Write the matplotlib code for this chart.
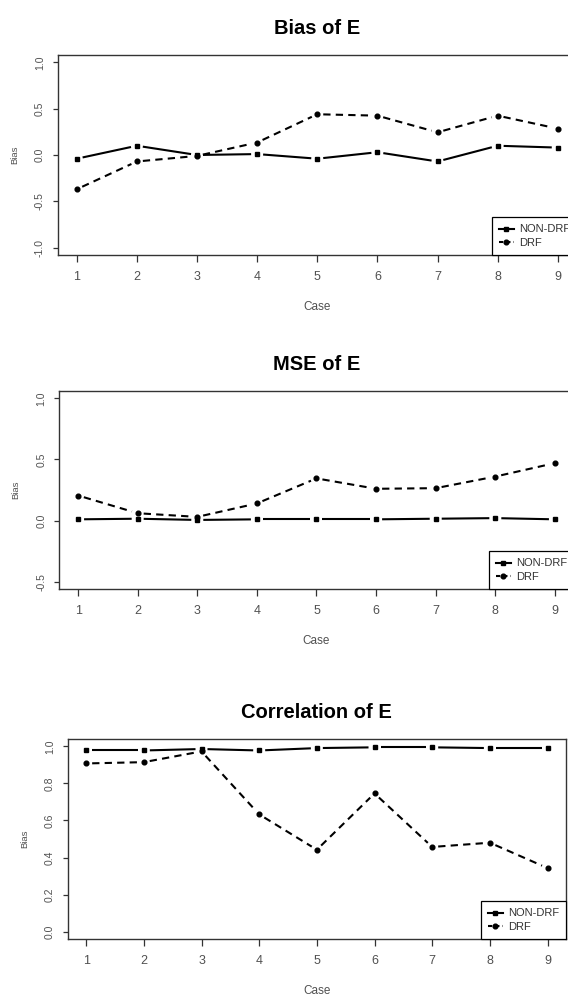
import numpy as np
import matplotlib
matplotlib.use("Agg")
import matplotlib.pyplot as plt
from matplotlib import font_manager
from matplotlib.lines import Line2D

cases = [1, 2, 3, 4, 5, 6, 7, 8, 9]

bias_non = [-0.04, 0.10, 0.00, 0.01, -0.04, 0.03, -0.07, 0.10, 0.08]
bias_drf = [-0.37, -0.07, -0.01, 0.135, 0.44, 0.425, 0.245, 0.425, 0.285]

mse_non = [0.01, 0.015, 0.005, 0.01, 0.01, 0.01, 0.015, 0.02, 0.01]
mse_drf = [0.205, 0.06, 0.03, 0.14, 0.345, 0.26, 0.265, 0.36, 0.47]

cor_non = [0.978, 0.978, 0.986, 0.978, 0.991, 0.995, 0.995, 0.991, 0.991]
cor_drf = [0.908, 0.915, 0.973, 0.633, 0.442, 0.746, 0.457, 0.48, 0.343]

titles = ["Bias of E", "MSE of E", "Correlation of E"]
yticks = [[-1.0, -0.5, 0.0, 0.5, 1.0],
          [-0.5, 0.0, 0.5, 1.0],
          [0.0, 0.2, 0.4, 0.6, 0.8, 1.0]]
ylims = [(-1.0, 1.0), (-0.5, 1.0), (0.0, 1.0)]
labels = ["NON-DRF", "DRF"]

names = {f.name for f in font_manager.fontManager.ttflist}
has_narrow = "Liberation Sans Narrow" in names
narrow = "Liberation Sans Narrow" if has_narrow else "Liberation Sans"
xsize = 10.0 if has_narrow else 9.0
lsize = 9.5 if has_narrow else 8.5
legsize = 9.0 if has_narrow else 8.0

plt.rcParams["font.family"] = ["Liberation Sans", "DejaVu Sans"]

W, H = 568, 998
fig = plt.figure(figsize=(W / 100, H / 100), dpi=100)

# axes boxes in pixels: left, right, top, bottom
boxes = [(57.5, 577, 55, 255), (59, 574, 391, 589), (67.7, 566, 739, 939)]

grey = "#505050"
lw = 1.5
dash = (0, (3.5, 2.5))


def r_lim(lo, hi):
    d = (hi - lo) * 0.04
    return lo - d, hi + d


def draw_b(ax, x, y, ls, marker, ms, gap=6):
    # R type="b": segments stop short of each point
    pts = ax.transData.transform(np.column_stack([x, y]))
    inv = ax.transData.inverted()
    for p0, p1 in zip(pts[:-1], pts[1:]):
        d = p1 - p0
        L = np.hypot(*d)
        if L <= 2 * gap:
            continue
        u = d / L
        seg = inv.transform(np.array([p0 + u * gap, p1 - u * gap]))
        ax.plot(seg[:, 0], seg[:, 1], color="black", lw=lw, ls=ls,
                solid_capstyle="butt", dash_capstyle="butt")
    ax.plot(x, y, ls="none", marker=marker, ms=ms, color="black")


series = [(bias_non, bias_drf), (mse_non, mse_drf), (cor_non, cor_drf)]

for i, (non, drf) in enumerate(series):
    l, r, t, b = boxes[i]
    ax = fig.add_axes([l / W, 1 - b / H, (r - l) / W, (b - t) / H])
    ax.set_xlim(*r_lim(1, 9))
    ax.set_ylim(*r_lim(*ylims[i]))

    draw_b(ax, cases, non, "-", "s", 2.8)
    draw_b(ax, cases, drf, dash, "o", 3.4)

    ax.set_xticks(cases)
    ax.set_xticklabels([str(c) for c in cases], fontfamily=narrow,
                       fontsize=xsize, color=grey)
    ax.set_yticks(yticks[i])
    ax.set_yticklabels(["%.1f" % v for v in yticks[i]], fontsize=7.5,
                       color=grey, rotation=90, va="center")
    ax.tick_params(axis="x", length=5, width=0.9, pad=6.5, color="#333333")
    ax.tick_params(axis="y", length=3.6, width=0.9, pad=5.5, color="#333333")
    for s in ax.spines.values():
        s.set_linewidth(1.0)
        s.set_color("#333333")

    ax.set_title(titles[i], fontsize=14.5, fontweight="bold", pad=15)

    handles = [Line2D([], [], color="black", lw=lw, ls="-", marker="s", ms=2.8),
               Line2D([], [], color="black", lw=lw, ls=(0, (2, 1.5)), marker="o", ms=3.4)]
    leg = ax.legend(handles, labels, loc="lower right", borderaxespad=0,
                    fancybox=False, framealpha=1, edgecolor="black",
                    prop={"family": narrow, "size": legsize},
                    handlelength=1.3, handletextpad=0.45, labelspacing=0.3,
                    borderpad=0.65)
    leg.get_frame().set_linewidth(0.9)
    for txt in leg.get_texts():
        txt.set_color("#333333")

    fig.text((l - 43) / W, 1 - (t + b) / 2 / H, "Bias",
             rotation=90, ha="center", va="center", fontsize=6.8, color=grey)
    fig.text((l + r) / 2 / W, 1 - (b + 52) / H, "Case", ha="center", va="center",
             fontfamily=narrow, fontsize=lsize, color=grey)

fig.savefig("out.png", dpi=100)
